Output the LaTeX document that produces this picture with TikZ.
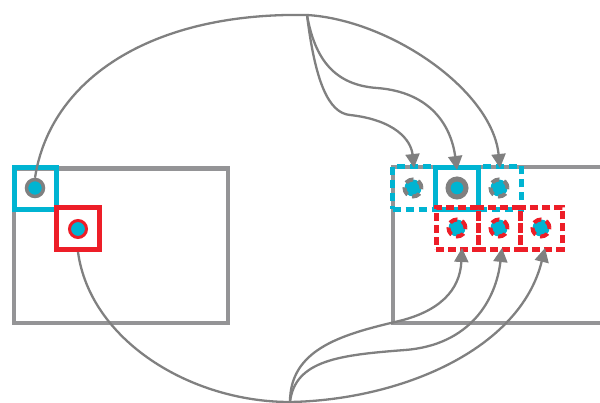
\documentclass[tikz,border=0pt]{standalone}
\usetikzlibrary{arrows.meta}
\definecolor{cy}{RGB}{0,180,210}
\definecolor{rd}{RGB}{237,30,40}
\definecolor{rectgray}{RGB}{148,148,150}
\definecolor{linegray}{RGB}{128,128,128}
\tikzset{
  frame/.style={draw=rectgray,line width=4.5pt},
  cysolid/.style={draw=cy,line width=5pt,minimum width=42pt,minimum height=42pt,inner sep=0pt},
  rdsolid/.style={draw=rd,line width=5pt,minimum width=43pt,minimum height=42pt,inner sep=0pt},
  cydash/.style={draw=cy,line width=5pt,dash pattern=on 8pt off 5pt,minimum width=43pt,minimum height=43pt,inner sep=0pt},
  rddash/.style={draw=rd,line width=5pt,dash pattern=on 8pt off 4pt,minimum width=42pt,minimum height=42pt,inner sep=0pt},
  dotgray/.style={circle,fill=cy,draw=linegray,line width=3.5pt,minimum size=17pt,inner sep=0pt},
  dotred/.style={circle,fill=cy,draw=rd,line width=3pt,minimum size=17pt,inner sep=0pt},
  dotbig/.style={circle,fill=cy,draw=linegray,line width=5pt,minimum size=18pt,inner sep=0pt},
  dotgraydash/.style={dotgray,line width=4pt,dash pattern=on 8pt off 5pt},
  dotreddash/.style={dotred,line width=4pt,dash pattern=on 8pt off 5pt},
  conn/.style={draw=linegray,line width=2.3pt},
  arr/.style={conn,-{Triangle[length=14pt,width=14pt]}}
}
\begin{document}
\begin{tikzpicture}[x=1pt,y=-1pt]
\useasboundingbox (0,0) rectangle (600,403);
\clip (0,0) rectangle (600,403);
% frames
\draw[frame] (14,168.5) rectangle (228,323);
\draw[frame] (393,167) rectangle (620,323);
% left boxes
\node[cysolid] (cbox) at (35,188.5) {};
\node[rdsolid] (rbox) at (78,228.5) {};
\node[dotgray] (cdot) at (35,188) {};
\node[dotred] (rdot) at (78,229) {};
% right top row
\node[cydash] (t1) at (414,188) {};
\node[cydash] (t3) at (500,188) {};
\node[cysolid,minimum width=43pt] (t2) at (457,188.5) {};
% right bottom row
\node[rddash] (b1) at (457,228.5) {};
\node[rddash] (b2) at (499,228.5) {};
\node[rddash] (b3) at (541,228.5) {};
% dots
\node[dotgraydash] (d1) at (413,188) {};
\node[dotbig] (d2) at (457,188) {};
\node[dotgraydash] (d3) at (499,188) {};
\node[dotreddash] (e1) at (457,228) {};
\node[dotreddash] (e2) at (499,228) {};
\node[dotreddash] (e3) at (541,228) {};
% junctions
\coordinate (top) at (307,15);
\coordinate (bot) at (290,402);
% top curves
\draw[conn] (cdot.north) .. controls (50,80) and (150,12) .. (top);
\draw[arr] (top) .. controls (390,20) and (492,90) .. ([yshift=-4pt]t3.north);
\draw[arr] (top) .. controls (315,80) and (328,113) .. (350,115)
  .. controls (395,120) and (411,140) .. ([yshift=-4pt]t1.north);
\draw[arr] (top) .. controls (315,60) and (335,85) .. (377,88)
  .. controls (430,92) and (451,125) .. ([yshift=-5pt]t2.north);
% bottom curves
\draw[conn] (rbox.south) .. controls (90,340) and (190,402) .. (bot);
\draw[arr] (bot) .. controls (290,350) and (340,335) .. (395,322)
  .. controls (440,312) and (460,290) .. ([xshift=5pt,yshift=4pt]b1.south);
\draw[arr] (bot) .. controls (295,360) and (340,355) .. (405,350)
  .. controls (470,345) and (496,300) .. ([xshift=3pt,yshift=4pt]b2.south);
\draw[arr] (bot) .. controls (400,400) and (520,350) .. ([xshift=4pt,yshift=4pt]b3.south);
\end{tikzpicture}
\end{document}
